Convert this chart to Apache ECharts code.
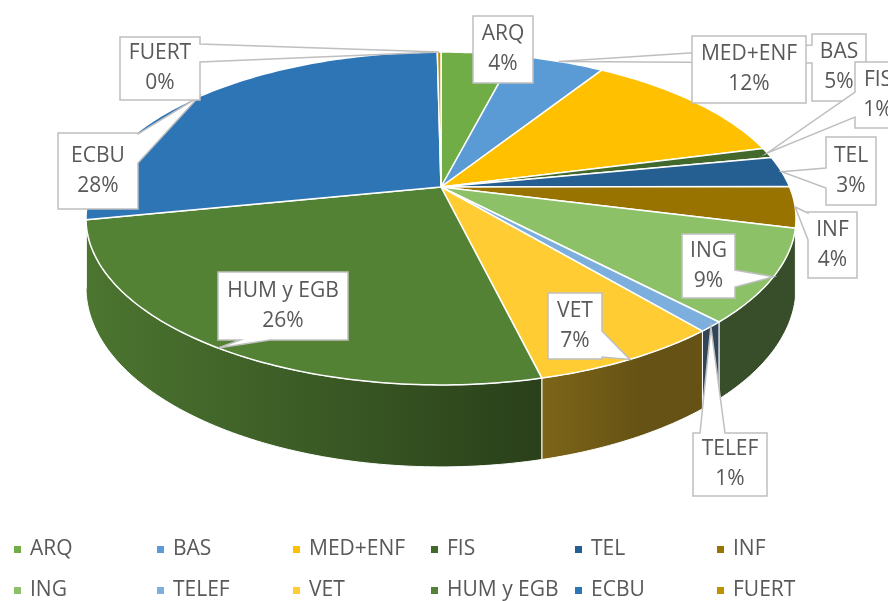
<!DOCTYPE html>
<html><head><meta charset="utf-8">
<script src="https://cdn.jsdelivr.net/npm/echarts/dist/echarts.min.js"></script>
<style>html,body{margin:0;padding:0;background:#fff}#c{width:888px;height:601px}</style>
</head><body><div id="c"></div>
<script>
// ---- data ----
const categories = ['ARQ','BAS','MED+ENF','FIS','TEL','INF','ING','TELEF','VET','HUM y EGB','ECBU','FUERT'];
const values = [4, 5, 12, 1, 3, 4, 9, 1, 7.3, 25.7, 28, 0.2];
const legendRow1 = ['ARQ','BAS','MED+ENF','FIS','TEL','INF'];
const legendRow2 = ['ING','TELEF','VET','HUM y EGB','ECBU','FUERT'];

// ---- styles / layout ----
const colors = ['#70AD47','#5B9BD5','#FFC000','#43682B','#255E91','#997300','#8CC168','#7CAFDD','#FFCD33','#548235','#2E75B6','#BF9000'];
const PIE = {cx: 441, cy: 187, a: 348.6, b: 160.5, k: 0.189, depth: 66.5};
const FONT = '"Open Sans", "Noto Sans", sans-serif';
const TEXT_COLOR = '#595959';
// callout boxes [x, y, w, h] and tail base on a side (offsets along that side)
const labelLayout = [
  {box: [473, 16, 60, 67], tail: null},
  {box: [812, 34, 54, 67], tail: {side: 'left', a: 11, b: 29}},
  {box: [692, 36, 114, 67], tail: {side: 'left', a: 39, b: 66}},
  {box: [855, 62, 46, 66], tail: {side: 'left', a: 30, b: 55}},
  {box: [826, 137, 50, 68], tail: {side: 'left', a: 31, b: 51}},
  {box: [808, 212, 49, 66], tail: {side: 'left', a: 1, b: 28}},
  {box: [682, 234, 53, 64], tail: {side: 'right', a: 36, b: 53}},
  {box: [693, 433, 74, 63], tail: {side: 'top', a: 7, b: 32}},
  {box: [548, 293, 54, 66], tail: {side: 'right', a: 38, b: 64}},
  {box: [218, 272, 130, 68], tail: {side: 'bottom', a: 22, b: 52}},
  {box: [58, 133, 80, 76], tail: {side: 'right', a: 1, b: 30}},
  {box: [120, 37, 80, 63], tail: {side: 'right', a: 7, b: 25}}
];
const legendLefts = [14, 157, 293, 431, 575, 717];

const total = values.reduce((s, v) => s + v, 0);
const starts = [];
values.reduce((s, v, i) => { starts[i] = s; return s + v; }, 0);

function proj(th, h) {
  const u = Math.sin(th), v = -Math.cos(th);
  const d = 1 - PIE.k * v;
  return [PIE.cx + PIE.a * u / d, PIE.cy + (PIE.b * v + h) / d];
}
function arc(t1, t2, h) {
  const n = Math.max(2, Math.ceil((t2 - t1) / (Math.PI / 180)) + 1);
  const pts = [];
  for (let j = 0; j < n; j++) pts.push(proj(t1 + (t2 - t1) * j / (n - 1), h));
  return pts;
}
function shade(hex, f) {
  const n = parseInt(hex.slice(1), 16);
  const r = Math.round(((n >> 16) & 255) * f), g = Math.round(((n >> 8) & 255) * f), b = Math.round((n & 255) * f);
  return 'rgb(' + r + ',' + g + ',' + b + ')';
}
function calloutPoints(box, tail, tip) {
  const [x, y, w, h] = box;
  const p = [[x, y]];
  if (tail && tail.side === 'top') p.push([x + tail.a, y], tip, [x + tail.b, y]);
  p.push([x + w, y]);
  if (tail && tail.side === 'right') p.push([x + w, y + tail.a], tip, [x + w, y + tail.b]);
  p.push([x + w, y + h]);
  if (tail && tail.side === 'bottom') p.push([x + tail.b, y + h], tip, [x + tail.a, y + h]);
  p.push([x, y + h]);
  if (tail && tail.side === 'left') p.push([x, y + tail.b], tip, [x, y + tail.a]);
  return p;
}
const sil1 = Math.acos(-PIE.k), sil2 = 2 * Math.PI - Math.acos(-PIE.k);

function makeRender(i) {
  return function (params, api) {
    const v = api.value(0);
    const t1 = starts[i] / total * 2 * Math.PI;
    const t2 = (starts[i] + v) / total * 2 * Math.PI;
    const col = colors[i];
    const children = [];
    // side wall (visible front part)
    const s1 = Math.max(t1, sil1), s2 = Math.min(t2, sil2);
    if (s2 > s1) {
      const pts = arc(s1, s2, 0).concat(arc(s1, s2, PIE.depth).reverse());
      children.push({
        type: 'polygon', z2: 10, shape: {points: pts},
        style: {
          fill: {type: 'linear', x: 90, y: 0, x2: 640, y2: 0, global: true,
            colorStops: [{offset: 0, color: shade(col, 0.9)}, {offset: 1, color: shade(col, 0.4)}]},
          stroke: '#ffffff', lineWidth: 1, lineJoin: 'round'
        }
      });
    }
    // top face
    children.push({
      type: 'polygon', z2: 50,
      shape: {points: [[PIE.cx, PIE.cy]].concat(arc(t1, t2, 0))},
      style: {fill: col, stroke: '#ffffff', lineWidth: 1.5, lineJoin: 'round'}
    });
    // callout label
    const L = labelLayout[i];
    const tip = proj((t1 + t2) / 2, 0);
    const [bx, by, bw, bh] = L.box;
    const inside = tip[0] >= bx && tip[0] <= bx + bw && tip[1] >= by && tip[1] <= by + bh;
    children.push({
      type: 'polygon', z2: 100 + i * 3,
      shape: {points: calloutPoints(L.box, inside ? null : L.tail, tip)},
      style: {fill: '#ffffff', stroke: '#BFBFBF', lineWidth: 1.5, lineJoin: 'miter'}
    });
    const pct = Math.round(v / total * 100) + '%';
    const tx = bx + bw / 2, ty = by + bh / 2;
    [[categories[i], ty - 15], [pct, ty + 15]].forEach(([s, yy]) => {
      children.push({
        type: 'text', z2: 101 + i * 3,
        style: {text: s, x: tx, y: yy, align: 'center', verticalAlign: 'middle',
          textAlign: 'center', textVerticalAlign: 'middle',
          font: '21px ' + FONT, fill: TEXT_COLOR}
      });
    });
    return {type: 'group', children};
  };
}

const chart = echarts.init(document.getElementById('c'), null, {renderer: 'canvas'});
chart.setOption({
  backgroundColor: '#ffffff',
  animation: false,
  color: colors,
  legend: legendRow1.map((n, j) => ({
    orient: 'vertical', left: legendLefts[j], top: 539, height: 62, padding: 0,
    itemWidth: 7, itemHeight: 7, itemGap: 20, icon: 'rect', selectedMode: false,
    data: [legendRow1[j], legendRow2[j]],
    textStyle: {color: TEXT_COLOR, fontSize: 21, lineHeight: 21, fontFamily: FONT, padding: [0, 0, 0, 4]}
  })),
  series: categories.map((name, i) => ({
    type: 'custom', name, coordinateSystem: 'none', silent: true,
    itemStyle: {color: colors[i]},
    data: [[values[i]]],
    renderItem: makeRender(i)
  }))
});
</script></body></html>
